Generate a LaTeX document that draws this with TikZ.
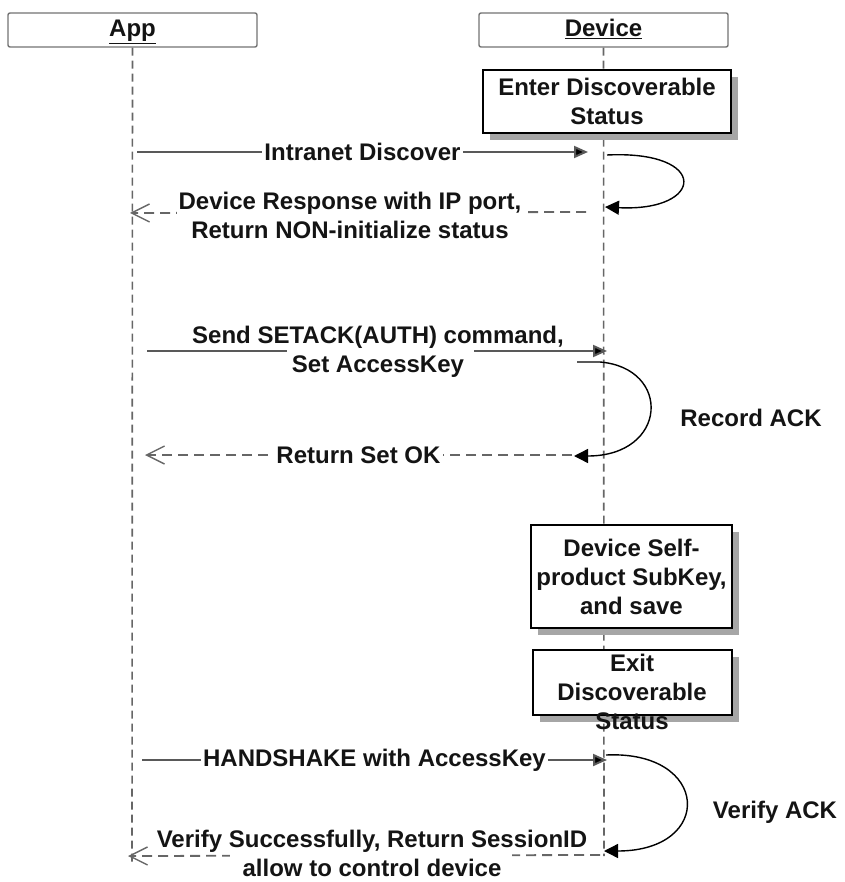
\documentclass[tikz,border=0pt]{standalone}
\usepackage{fontspec}
\setmainfont{Liberation Sans}
\usetikzlibrary{arrows.meta,shadows}
\begin{document}
\begin{tikzpicture}[x=1pt,y=-1pt,
  every node/.style={font=\fontsize{24}{29}\selectfont\bfseries, text=black!92, align=center, inner sep=1pt},
  head/.style={draw=black!55, line width=1.4pt, rounded corners=2pt, minimum width=249pt, minimum height=34pt, fill=white, text height=19pt, text depth=5pt},
  life/.style={draw=black!60, line width=1.6pt, dash pattern=on 8pt off 5pt},
  actbox/.style={draw=black, line width=2.8pt, fill=white, drop shadow={shadow xshift=7pt, shadow yshift=-7pt, fill=black!35, opacity=1}},
  msg/.style={draw=black!65, line width=2pt, -{Triangle[length=14pt,width=12pt,fill=black]}},
  ret/.style={draw=black!60, line width=1.8pt, dash pattern=on 10pt off 6pt, -{Straight Barb[length=18pt,width=18pt,line width=1.4pt]}},
  loop/.style={draw=black, line width=1.4pt, -{Triangle[length=14pt,width=14pt]}},
  lbl/.style={fill=white, inner sep=2pt}
]
\useasboundingbox (0,0) rectangle (844,882);
% headers
\node[head] (app) at (132.5,30) {\underline{App}};
\node[head] (dev) at (603.5,30) {\underline{Device}};
% lifelines
\coordinate (append) at (132,862);
\coordinate (devend) at (604,856);
\draw[life] (app.south) -- (append);
\draw[life] (dev.south) -- (devend);
% activity boxes
\node[actbox, minimum width=248pt, minimum height=63pt] (enter) at (607,101.5) {Enter Discoverable\\Status};
\node[actbox, minimum width=201pt, minimum height=103pt] (self) at (631.5,576.5) {Device Self-\\product SubKey,\\and save};
\node[actbox, minimum width=199pt, minimum height=65pt] (exitbox) at (632.5,682.5) {};
\node (exittxt) at (632,692) {Exit\\Discoverable\\Status};
% message 1
\coordinate (m1s) at (137,152);
\coordinate (m1e) at (588,152);
\draw[msg] (m1s) -- node[lbl] (l1) {Intranet Discover} (m1e);
\coordinate (lp1s) at (607,155);
\coordinate (lp1e) at (605,207);
\draw[loop] (lp1s) .. controls (710,150) and (705,212) .. (lp1e);
\coordinate (r1s) at (586,212);
\coordinate (r1e) at (130,213);
\draw[ret] (r1s) -- (r1e);
\node[lbl] (l2) at (350,215) {Device Response with IP port,\\Return NON-initialize status};
% message 2
\coordinate (m2s) at (147,351);
\coordinate (m2e) at (607,351);
\draw[msg] (m2s) -- (m2e);
\fill[white] (287,345) rectangle (474,358);
\node[inner sep=0pt] (l3) at (378,352) {Send SETACK(AUTH) command,\\Set AccessKey};
\coordinate (lp2s) at (577,362);
\coordinate (lp2a) at (600,362);
\coordinate (lp2e) at (574,456);
\draw[loop] (lp2s) -- (lp2a) .. controls (672,368) and (668,456) .. (lp2e);
\node (rec) at (751,418) {Record ACK};
\coordinate (r2s) at (572,455);
\coordinate (r2e) at (145,455);
\draw[ret] (r2s) -- node[lbl] (l4) {Return Set OK} (r2e);
% message 3
\coordinate (m3s) at (142,760);
\coordinate (m3e) at (607,760);
\draw[msg] (m3s) -- node[lbl] (l5) {HANDSHAKE with AccessKey} (m3e);
\coordinate (lp3s) at (606,755);
\coordinate (lp3e) at (604,851);
\draw[loop] (lp3s) .. controls (710,750) and (715,851) .. (lp3e);
\node (ver) at (775,812) {Verify ACK};
\coordinate (r3s) at (600,855);
\coordinate (r3e) at (128,856);
\draw[ret] (r3s) -- (r3e);
\fill[white] (230,849) rectangle (512,861);
\node[inner sep=0pt] (l6) at (372,853) {Verify Successfully, Return SessionID\\allow to control device};
\end{tikzpicture}
\end{document}
